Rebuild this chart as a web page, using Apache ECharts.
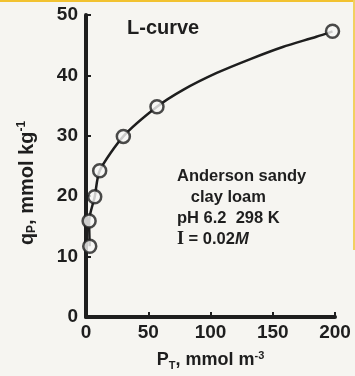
<!DOCTYPE html>
<html>
<head>
<meta charset="utf-8">
<script src="https://cdn.jsdelivr.net/npm/echarts@6/dist/echarts.min.js"></script>
<style>
  html, body { margin: 0; padding: 0; background: #f6f5f1; }
  #chart { width: 355px; height: 376px; }
</style>
</head>
<body>
<div id="chart"></div>
<script>
// measured points (open circles)
const pointsP = [3, 2.5, 7, 11, 30, 57, 198];
const pointsQ = [11.7, 15.9, 19.9, 24.2, 29.9, 34.8, 47.3];
// fitted L-curve
const curveP = [3, 2.5, 7, 11, 30, 57, 78, 105, 132, 158, 185, 198];
const curveQ = [11.7, 15.9, 19.9, 24.2, 29.9, 34.8, 37.6, 40.4, 42.7, 44.7, 46.4, 47.3];
const xTicks = [0, 50, 100, 150, 200];
const yTicks = [0, 10, 20, 30, 40, 50];

const ink = '#1e1e1e';
const font = '"Liberation Sans", Arial, sans-serif';

const chart = echarts.init(document.getElementById('chart'));
chart.setOption({
  backgroundColor: '#f6f5f1',
  animation: false,
  grid: { left: 86, right: 20, top: 15, bottom: 49 },
  xAxis: {
    type: 'value',
    min: xTicks[0], max: xTicks[xTicks.length - 1], interval: 50,
    axisLine: { lineStyle: { color: ink, width: 4 } },
    axisTick: { inside: true, length: 5, lineStyle: { color: ink, width: 2 } },
    splitLine: { show: false },
    axisLabel: { color: ink, fontSize: 19, fontWeight: 'bold', fontFamily: font, margin: 6 },
    name: 'P{sub|T}, mmol m{sup|-3}',
    nameLocation: 'middle',
    nameGap: 33,
    nameTextStyle: {
      color: ink, fontSize: 18, fontWeight: 'bold', fontFamily: font,
      rich: {
        sub: { fontSize: 11, fontWeight: 'bold', fontFamily: font, color: ink, padding: [10, 0, 0, 0] },
        sup: { fontSize: 11, fontWeight: 'bold', fontFamily: font, color: ink, padding: [0, 0, 10, 0] }
      }
    }
  },
  yAxis: {
    type: 'value',
    min: yTicks[0], max: yTicks[yTicks.length - 1], interval: 10,
    axisLine: { lineStyle: { color: ink, width: 4 } },
    axisTick: { inside: true, length: 5, lineStyle: { color: ink, width: 2 } },
    splitLine: { show: false },
    axisLabel: { color: ink, fontSize: 19, fontWeight: 'bold', fontFamily: font, margin: 8 },
    name: 'q{sub|P}, mmol kg{sup|-1}',
    nameLocation: 'middle',
    nameGap: 48,
    nameTextStyle: {
      color: ink, fontSize: 20, fontWeight: 'bold', fontFamily: font,
      padding: [0, 34, 0, 0],
      rich: {
        sub: { fontSize: 12, fontWeight: 'bold', fontFamily: font, color: ink, padding: [10, 0, 0, 0] },
        sup: { fontSize: 12, fontWeight: 'bold', fontFamily: font, color: ink, padding: [0, 0, 10, 0] }
      }
    }
  },
  series: [
    {
      name: 'curve',
      type: 'line',
      data: curveP.map((p, i) => [p, curveQ[i]]),
      smooth: 0.25,
      showSymbol: false,
      lineStyle: { color: ink, width: 2.5 },
      z: 2
    },
    {
      name: 'points',
      type: 'scatter',
      data: pointsP.map((p, i) => [p, pointsQ[i]]),
      symbol: 'circle',
      symbolSize: 13,
      itemStyle: { color: '#f8f8f6', borderColor: ink, borderWidth: 2.5 },
      z: 3
    }
  ],
  graphic: [
    { type: 'rect', left: 0, top: 0, shape: { width: 355, height: 2 }, style: { fill: '#f2c230' }, silent: true },
    { type: 'rect', right: 0, top: 0, shape: { width: 2, height: 250 }, style: { fill: '#f2d060' }, silent: true },
    {
      type: 'text', left: 127, top: 18,
      style: { text: 'L-curve', fill: ink, font: 'bold 20px ' + font }
    },
    {
      type: 'text', left: 177, top: 166,
      style: {
        text: 'Anderson sandy\n   clay loam\npH 6.2  298 K\n{i|I} = 0.02{m|M}',
        fill: ink, font: 'bold 16.5px ' + font, lineHeight: 21,
        rich: {
          i: { fontFamily: '"Liberation Serif", "Times New Roman", serif', fontWeight: 'bold', fontSize: 18, fill: ink },
          m: { fontStyle: 'italic', fontWeight: 'bold', fontSize: 16.5, fontFamily: font, fill: ink }
        }
      }
    }
  ]
});
</script>
</body>
</html>
